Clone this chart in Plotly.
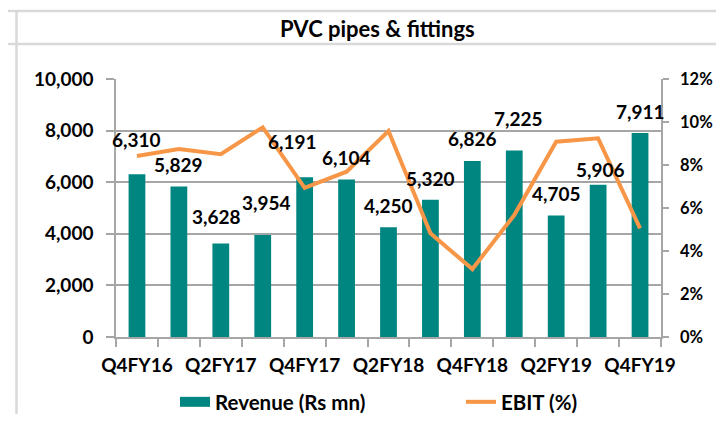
import plotly.graph_objects as go

quarters = ["Q4FY16", "Q1FY17", "Q2FY17", "Q3FY17", "Q4FY17", "Q1FY18", "Q2FY18",
            "Q3FY18", "Q4FY18", "Q1FY19", "Q2FY19", "Q3FY19", "Q4FY19"]
revenue = [6310, 5829, 3628, 3954, 6191, 6104, 4250, 5320, 6826, 7225, 4705, 5906, 7911]
ebit_pct = [8.42, 8.74, 8.50, 9.75, 6.94, 7.69, 9.58, 4.82, 3.16, 5.67, 9.08, 9.24, 5.05]
title_text = "PVC pipes & fittings"
rev_name = "Revenue (Rs mn)"
ebit_name = "EBIT (%)"

# label placement style (pixel offsets above bar tops)
label_yshift = [35, 22, 27, 32, 36, 22, 22, 21, 22, 32, 22, 15, 21]
label_xshift = [0, 0, -4, 4, -12, 0, 0, 0, 0, 4, 0, 2, 0]

TEAL = "#008680"
ORANGE = "#F79646"
GRID = "#a6a6a6"
FONT = dict(family="Lato, Open Sans, sans-serif", size=19, color="#000000", weight="bold")
TITLE_FONT = dict(FONT, size=22)
LEG_FONT = dict(FONT, size=20.5)
Y2_FONT = dict(FONT, size=16.5)

xs = list(range(len(quarters)))

fig = go.Figure()
fig.add_trace(go.Bar(x=xs, y=revenue, width=0.4, marker=dict(color=TEAL, line=dict(width=0)),
                     name=rev_name, showlegend=False, yaxis="y"))
fig.add_trace(go.Scatter(x=xs, y=ebit_pct, mode="lines", line=dict(color=ORANGE, width=4),
                         name=ebit_name, showlegend=False, yaxis="y2"))
# legend entries
fig.add_trace(go.Scatter(x=[None], y=[None], mode="lines", line=dict(color=TEAL, width=12),
                         name=rev_name, yaxis="y", legend="legend"))
fig.add_trace(go.Scatter(x=[None], y=[None], mode="lines", line=dict(color=ORANGE, width=4),
                         name=ebit_name, yaxis="y2", legend="legend2"))

# page body has an 8px margin; the figure is sized to fit inside the window
OFF = 8
W, H = 724 - 2 * OFF, 422 - 2 * OFF
L = 116 - OFF
R = W - (661 - OFF)
T = 79 - OFF
B = H - (337 - OFF)
pw, ph = W - L - R, H - T - B
def px(xs_): return (xs_ - OFF - L) / pw
def py(ys_): return (H - B - (ys_ - OFF)) / ph

annotations = []
for i, v in enumerate(revenue):
    annotations.append(dict(x=xs[i], y=v, xref="x", yref="y", text=f"{v:,}", showarrow=False,
                            yanchor="middle", xanchor="center", yshift=label_yshift[i],
                            xshift=label_xshift[i], font=FONT))
annotations.append(dict(x=px(377), y=py(28), xref="paper", yref="paper", text=title_text,
                        showarrow=False, xanchor="center", yanchor="middle", font=TITLE_FONT))

shapes = [
    dict(type="line", xref="paper", yref="paper", x0=px(OFF), x1=px(W + OFF), y0=py(11), y1=py(11),
         line=dict(color="#d9d9d9", width=2.5), layer="below"),
    dict(type="line", xref="paper", yref="paper", x0=px(OFF), x1=px(W + OFF), y0=py(44), y1=py(44),
         line=dict(color="#d9d9d9", width=2.5), layer="below"),
    dict(type="line", xref="paper", yref="paper", x0=px(16.5), x1=px(16.5), y0=py(11), y1=py(H + OFF),
         line=dict(color="#d9d9d9", width=2.5), layer="below"),
]

leg_common = dict(orientation="h", yanchor="middle", xanchor="left", font=LEG_FONT,
                  bgcolor="rgba(0,0,0,0)", borderwidth=0)

fig.update_layout(
    width=W, height=H,
    margin=dict(l=L, r=R, t=T, b=B, pad=0, autoexpand=False),
    paper_bgcolor="white", plot_bgcolor="white",
    font=FONT,
    bargap=0.6,
    showlegend=True,
    legend=dict(x=px(175), y=py(402), **leg_common),
    legend2=dict(x=px(461), y=py(402), **leg_common),
    xaxis=dict(range=[-0.5, len(quarters) - 0.5], tickmode="array", tickvals=xs[::2],
               ticktext=quarters[::2], ticks="", showgrid=False, showline=True,
               linecolor=GRID, linewidth=1.5, zeroline=False, tickfont=FONT,
               ticklabelstandoff=10, automargin=False,
               minor=dict(tick0=-0.5, dtick=1, ticks="outside", ticklen=8,
                          tickcolor=GRID, tickwidth=1.5, showgrid=False)),
    yaxis=dict(range=[0, 10000], dtick=2000, tickformat=",d", showgrid=True, gridcolor=GRID,
               gridwidth=1.5, showline=True, linecolor=GRID, linewidth=1.5, ticks="outside",
               ticklen=8, tickcolor=GRID, tickwidth=1.5, zeroline=False, tickfont=FONT,
               ticklabelstandoff=9, automargin=False),
    yaxis2=dict(range=[0, 12], dtick=2, ticksuffix="%", overlaying="y", side="right",
                showgrid=False, showline=True, linecolor=GRID, linewidth=1.5, ticks="outside",
                ticklen=6, tickcolor=GRID, tickwidth=1.5, zeroline=False, tickfont=Y2_FONT,
                ticklabelstandoff=8, automargin=False),
    annotations=annotations,
    shapes=shapes,
)

fig.write_html("out.html")
